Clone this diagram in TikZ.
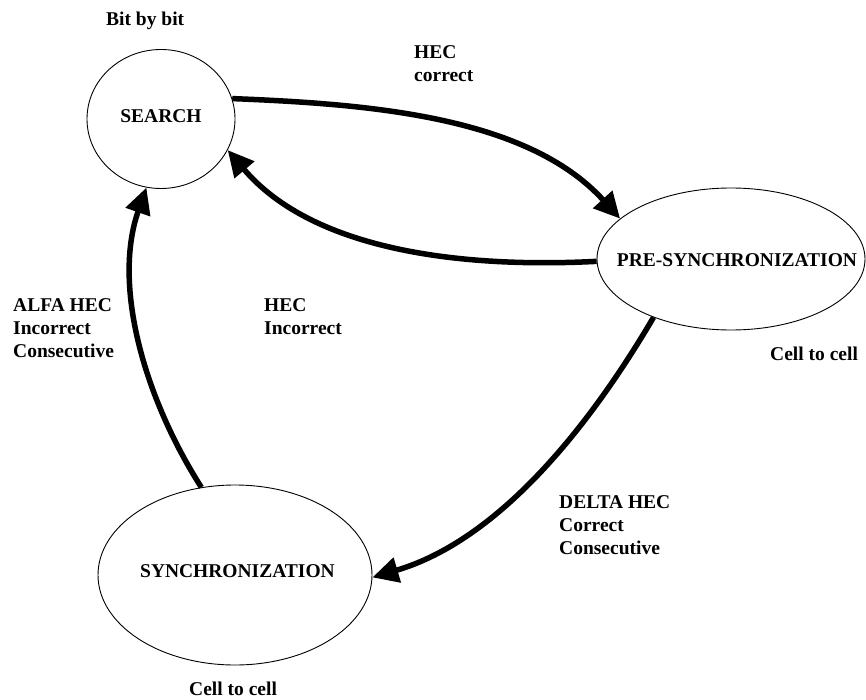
\documentclass[tikz,border=0pt]{standalone}
\usepackage{fontspec}
\setmainfont{Liberation Serif}
\usetikzlibrary{shapes.geometric,arrows.meta}
\tikzset{
  state/.style={draw, ellipse, line width=0.9pt, inner sep=0pt},
  stxt/.style={font=\fontsize{19.5}{23}\selectfont\bfseries, inner sep=0pt},
  lbl/.style={font=\fontsize{19.5}{23}\selectfont\bfseries, inner sep=0pt, align=left, anchor=north west},
  conn/.style={line width=5.5pt, -{Triangle[length=26pt,width=25pt]}}
}
\begin{document}
\begin{tikzpicture}[x=1pt,y=-1pt]
\useasboundingbox (0,0) rectangle (866,700);
\node[state, minimum width=148pt, minimum height=139pt] (search) at (161,119) {};
\node[state, minimum width=268pt, minimum height=142pt] (pre) at (731,259) {};
\node[state, minimum width=274pt, minimum height=180pt] (sync) at (235,575) {};
\node[stxt] (searcht) at (161,116.5) {SEARCH};
\node[stxt] (pret) at (737,260.5) {PRE-SYNCHRONIZATION};
\node[stxt] (synct) at (237.5,571.5) {SYNCHRONIZATION};
\node[lbl] (l1) at (106,12) {Bit by bit};
\node[lbl] (l2) at (414,45) {HEC\\correct};
\node[lbl] (l3) at (13,298) {ALFA HEC\\Incorrect\\Consecutive};
\node[lbl] (l4) at (264,298) {HEC\\Incorrect};
\node[lbl] (l5) at (770,347) {Cell to cell};
\node[lbl] (l6) at (559,495) {DELTA HEC\\Correct\\Consecutive};
\node[lbl] (l7) at (189,682) {Cell to cell};
\draw[conn] (search.16) .. controls (368,104) and (527,116) .. (pre.160);
\draw[conn] (pre.181) .. controls (469,268) and (315,253) .. (search.-25);
\draw[conn] (pre.217) .. controls (589,427) and (499,540) .. (sync.-1);
\draw[conn] (sync.111) .. controls (145,399) and (112,286) .. (search.258);
\end{tikzpicture}
\end{document}
